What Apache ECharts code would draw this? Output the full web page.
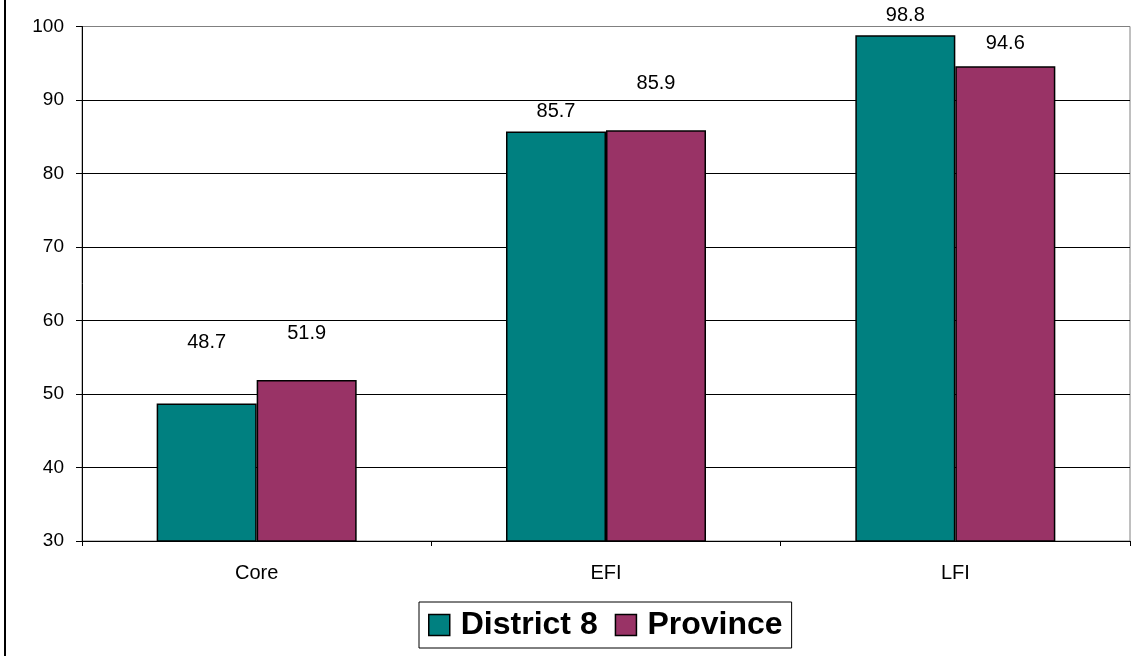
<!DOCTYPE html>
<html>
<head>
<meta charset="utf-8">
<style>
  html, body { margin: 0; padding: 0; background: #fff; }
  #chart { width: 1143px; height: 656px; }
</style>
<script src="https://cdn.jsdelivr.net/npm/echarts@6/dist/echarts.min.js"></script>
</head>
<body>
<div id="chart"></div>
<script>
// Groups along the x axis
const categories = ['Core', 'EFI', 'LFI'];
// Series values
const district8 = [48.7, 85.7, 98.8];
const province = [51.9, 85.9, 94.6];
// Value-axis range and step
const yMin = 30;
const yMax = 100;
const yStep = 10;

// Gap (px) between each bar top and its value label
const districtLabelGap = [51, 10, 10];
const provinceLabelGap = [37, 37, 13];

const FONT = "'Liberation Sans', Arial, sans-serif";

function withLabels(values, gaps) {
  return values.map((v, i) => ({ value: v, label: { distance: gaps[i] } }));
}

const chart = echarts.init(document.getElementById('chart'), null, { renderer: 'canvas' });

const labelStyle = {
  show: true,
  position: 'top',
  color: '#000',
  fontFamily: FONT,
  fontSize: 20,
  formatter: p => p.value.toFixed(1)
};

chart.setOption({
  animation: false,
  backgroundColor: '#fff',
  textStyle: { fontFamily: FONT },
  grid: {
    left: 82, right: 13, top: 26.5, bottom: 115,
    show: true,
    borderColor: '#808080',
    borderWidth: 1
  },
  legend: {
    data: ['District 8', 'Province'],
    left: 419,
    top: 602,
    padding: [7, 9, 7, 9],
    itemWidth: 21,
    itemHeight: 21,
    itemGap: 17,
    borderColor: '#000',
    borderWidth: 1,
    icon: 'rect',
    itemStyle: { borderColor: '#000', borderWidth: 1.5 },
    textStyle: {
      color: '#000',
      fontFamily: FONT,
      fontSize: 32,
      fontWeight: 'bold',
      padding: [0, 0, 0, 6]
    }
  },
  xAxis: {
    type: 'category',
    data: categories,
    axisLine: { lineStyle: { color: '#000', width: 1 } },
    axisTick: { show: true, length: 5, lineStyle: { color: '#000' } },
    axisLabel: { color: '#000', fontSize: 20, fontFamily: FONT, margin: 22 },
    splitLine: { show: false }
  },
  yAxis: {
    type: 'value',
    min: yMin,
    max: yMax,
    interval: yStep,
    axisLine: { show: true, lineStyle: { color: '#000', width: 1 } },
    axisTick: { show: true, length: 6, lineStyle: { color: '#000' } },
    axisLabel: { color: '#000', fontSize: 19, fontFamily: FONT, margin: 18 },
    splitLine: { show: true, showMaxLine: false, lineStyle: { color: '#000', width: 1 } }
  },
  series: [
    {
      name: 'District 8',
      type: 'bar',
      data: withLabels(district8, districtLabelGap),
      barWidth: 100,
      barGap: '0%',
      itemStyle: { color: '#008080', borderColor: '#000', borderWidth: 1.5 },
      label: labelStyle
    },
    {
      name: 'Province',
      type: 'bar',
      data: withLabels(province, provinceLabelGap),
      barWidth: 100,
      barGap: '0%',
      itemStyle: { color: '#993366', borderColor: '#000', borderWidth: 1.5 },
      label: labelStyle
    }
  ],
  graphic: [
    {
      type: 'line',
      shape: { x1: 5, y1: 0, x2: 5, y2: 656 },
      style: { stroke: '#000', lineWidth: 2 },
      silent: true
    }
  ]
});
</script>
</body>
</html>
